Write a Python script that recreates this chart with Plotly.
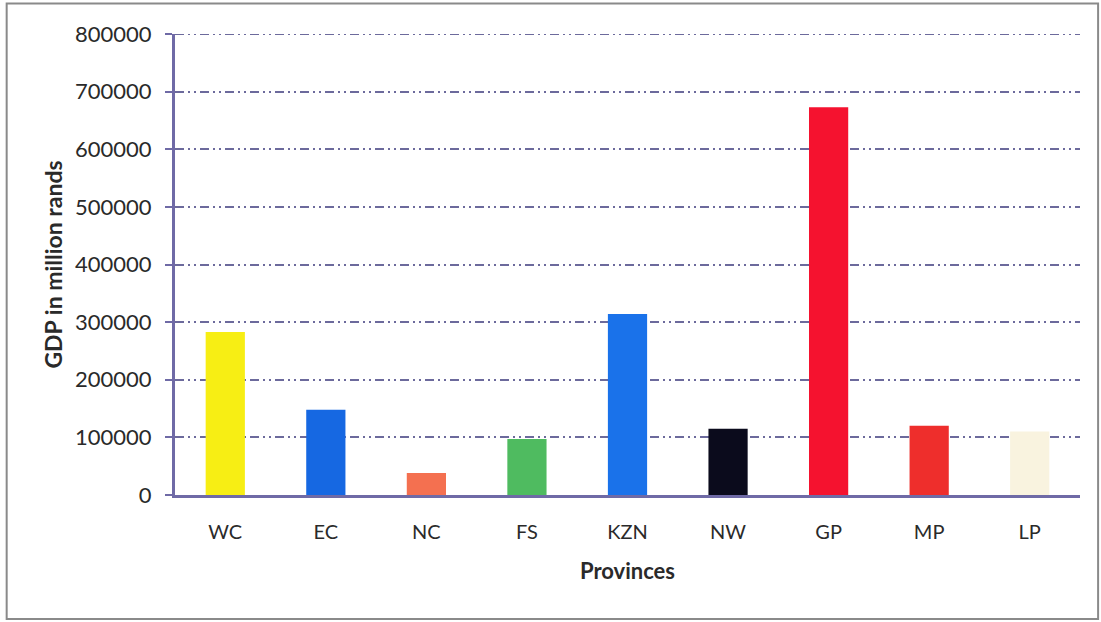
import plotly.graph_objects as go

provinces = ["WC", "EC", "NC", "FS", "KZN", "NW", "GP", "MP", "LP"]
gdp_million_rands = [283000, 148000, 38000, 97000, 314000, 115000, 673000, 120000, 110000]
bar_colors = ["#f7ee14", "#1668e2", "#f47050", "#4fbb60", "#1a72ea",
              "#0b0b1c", "#f5122f", "#ee2e2c", "#f9f3df"]
y_ticks = [0, 100000, 200000, 300000, 400000, 500000, 600000, 700000, 800000]

axis_color = "#6f6aa6"
grid_color = "#6c6a9c"
grid_dash = "9px,4px,2px,4px,2px,4px"
font_family = "Lato, 'Open Sans', sans-serif"

fig = go.Figure(
    go.Bar(
        x=provinces,
        y=gdp_million_rands,
        marker=dict(color=bar_colors, line=dict(width=0)),
        width=0.39,
    )
)

fig.update_layout(
    width=1101,
    height=622,
    margin=dict(l=175, r=21, t=34, b=127),
    paper_bgcolor="white",
    plot_bgcolor="white",
    showlegend=False,
    font=dict(family=font_family, color="#2a2a2a", size=20),
    shapes=[
        # outer frame around the chart
        dict(type="rect", xref="paper", yref="paper",
             x0=-0.186, x1=1.02, y0=-0.269, y1=1.066,
             line=dict(color="#8a8a8a", width=2), layer="below"),
        # top gridline sits on the plot edge, draw it explicitly
        dict(type="line", xref="paper", yref="y",
             x0=0, x1=1, y0=max(y_ticks), y1=max(y_ticks),
             line=dict(color=grid_color, width=2, dash=grid_dash), layer="below"),
    ],
)

fig.update_xaxes(
    showline=True,
    linecolor=axis_color,
    linewidth=3,
    showgrid=False,
    ticks="",
    ticklabelstandoff=17,
    tickfont=dict(size=20, family=font_family, color="#2a2a2a"),
    title=dict(text="<b>Provinces</b>", standoff=22,
               font=dict(size=22, family=font_family, color="#2a2a2a")),
)

fig.update_yaxes(
    range=[0, 800000],
    tickvals=y_ticks,
    ticktext=[str(v) for v in y_ticks],
    showline=True,
    linecolor=axis_color,
    linewidth=3,
    ticks="outside",
    ticklen=7,
    tickwidth=2,
    tickcolor=axis_color,
    ticklabelstandoff=9,
    showgrid=True,
    gridcolor=grid_color,
    gridwidth=2,
    griddash=grid_dash,
    zeroline=False,
    tickfont=dict(size=22, family=font_family, color="#2a2a2a"),
    title=dict(text="<b>GDP in million rands</b>", standoff=6,
               font=dict(size=23, family=font_family, color="#2a2a2a")),
)

fig.write_html("out.html")
